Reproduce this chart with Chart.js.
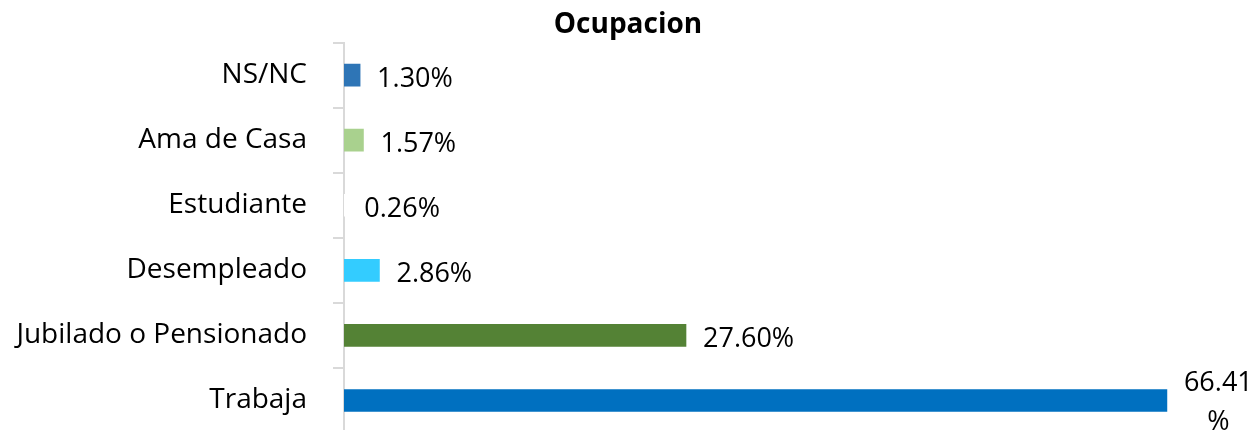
<!DOCTYPE html>
<html>
<head>
<meta charset="utf-8">
<script src="https://cdn.jsdelivr.net/npm/chart.js@4/dist/chart.umd.min.js"></script>
<style>
  html, body { margin:0; padding:0; background:#fff; overflow:hidden; }
  canvas { display:block; }
</style>
</head>
<body>
<canvas id="chart-ocupacion" width="1256" height="434"></canvas>
<script>
/* Datos */
const categorias = ['NS/NC', 'Ama de Casa', 'Estudiante', 'Desempleado', 'Jubilado o Pensionado', 'Trabaja'];
const porcentajes = [1.30, 1.57, 0.26, 2.86, 27.60, 66.41];
const colores = ['#2E75B6', '#A9D18E', '#FFFFFF', '#33CCFF', '#548235', '#0070C0'];

const FONT = "'Open Sans', 'Noto Sans', sans-serif";

/* Etiquetas de datos a la derecha de cada barra */
const etiquetasPlugin = {
  id: 'etiquetas',
  afterDatasetsDraw(chart) {
    const ctx = chart.ctx;
    const meta = chart.getDatasetMeta(0);
    ctx.save();
    ctx.font = `27px ${FONT}`;
    ctx.fillStyle = '#000';
    ctx.textBaseline = 'middle';
    meta.data.forEach((bar, i) => {
      const txt = porcentajes[i].toFixed(2) + '%';
      const x = bar.x + 17;
      const w = ctx.measureText(txt).width;
      if (x + w > chart.width - 4) {
        /* no cabe: se parte en dos líneas */
        const num = porcentajes[i].toFixed(2);
        const cx = x + ctx.measureText(num).width / 2;
        ctx.textAlign = 'center';
        ctx.fillText(num, cx, bar.y - 17);
        ctx.fillText('%', cx, bar.y + 22);
      } else {
        ctx.textAlign = 'left';
        ctx.fillText(txt, x, bar.y + 4);
      }
    });
    ctx.restore();
  }
};

new Chart(document.getElementById('chart-ocupacion'), {
  type: 'bar',
  data: {
    labels: categorias,
    datasets: [{ data: porcentajes, backgroundColor: colores, barThickness: 22 }]
  },
  options: {
    indexAxis: 'y',
    responsive: false,
    animation: false,
    layout: { padding: { left: 0, right: 0, top: 0, bottom: 1 } },
    plugins: {
      legend: { display: false },
      tooltip: { enabled: false },
      title: {
        display: true,
        text: 'Ocupacion',
        color: '#000',
        font: { family: FONT, size: 28, weight: 'bold' },
        padding: { top: 8, bottom: 1 }
      }
    },
    scales: {
      x: { display: false, min: 0, max: 73.6 },
      y: {
        afterFit(scale) {
          scale.width = 344;
          scale.paddingTop = 0;
          scale.paddingBottom = 0;
        },
        border: { display: true, color: '#D9D9D9', width: 2 },
        grid: { drawOnChartArea: false, color: '#D9D9D9', tickLength: 11, lineWidth: 2 },
        ticks: { color: '#000', padding: 26, font: { family: FONT, size: 28 } }
      }
    }
  },
  plugins: [etiquetasPlugin]
});
</script>
</body>
</html>
